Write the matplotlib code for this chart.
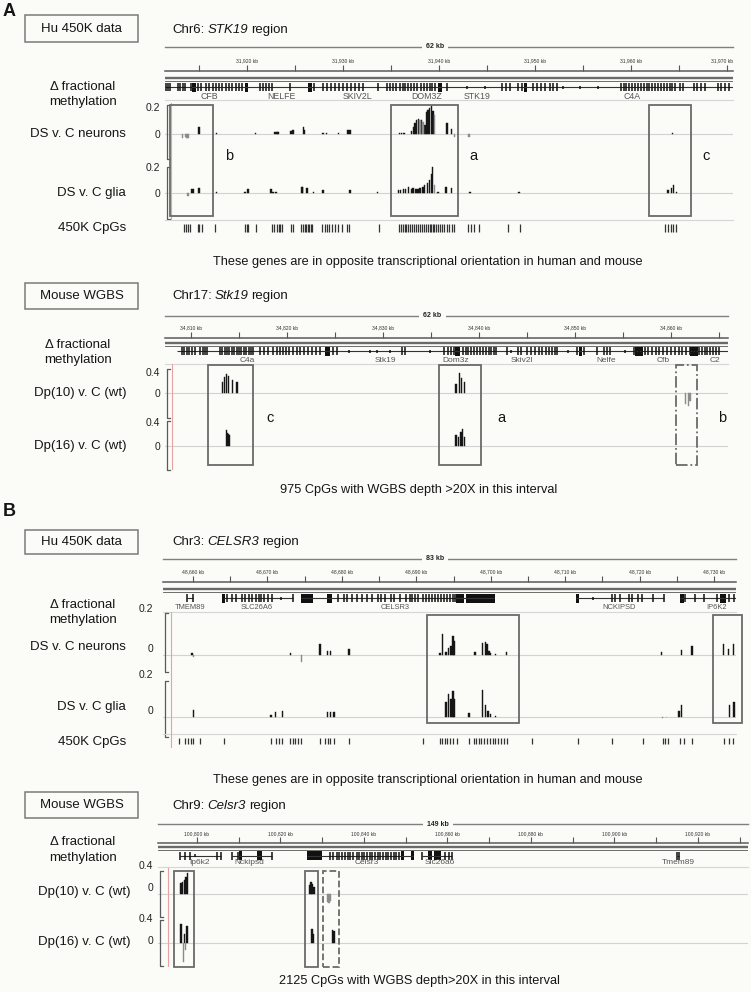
import numpy as np
import matplotlib
matplotlib.use("Agg")
from matplotlib import pyplot as plt
from matplotlib.patches import Rectangle
from matplotlib.ticker import MultipleLocator
from matplotlib.transforms import ScaledTranslation

plt.rcParams['font.family'] = ['Liberation Sans', 'DejaVu Sans']

# ------------------------------------------------------------------
# data, genomic positions in kb, values = delta fractional methylation
# ------------------------------------------------------------------

# A, human 450K, chr6 STK19 region
a_hu_xlim = (31911.46, 31970.6)
a_hu_neur_kb = [31915.0, 31916.8, 31920.9, 31922.9, 31923.1, 31923.2, 31924.6, 31924.8, 31925.9, 31926.0,
                31927.9, 31928.3, 31929.5, 31930.5, 31930.7, 31935.9, 31936.1, 31936.35, 31937.15, 31937.32,
                31937.49, 31937.66, 31937.83, 31938.17, 31938.51, 31938.68, 31938.85, 31939.02, 31939.19,
                31939.36, 31940.8, 31941.3, 31964.3]
a_hu_neur_val = [0.05, 0.01, 0.01, 0.015, 0.015, 0.015, 0.02, 0.03, 0.05, 0.03,
                 0.01, 0.01, 0.01, 0.03, 0.03, 0.01, 0.01, 0.01, 0.02, 0.05,
                 0.08, 0.10, 0.11, 0.10, 0.07, 0.16, 0.18, 0.19, 0.21,
                 0.17, 0.08, 0.04, 0.01]
a_hu_neur_grey_kb = [31913.3, 31913.6, 31913.75, 31913.85, 31938.0, 31938.34, 31939.53, 31941.6, 31943.1]
a_hu_neur_grey_val = [-0.03, -0.02, -0.03, -0.03, 0.10, 0.09, 0.14, -0.02, -0.02]
a_hu_glia_kb = [31914.2, 31914.4, 31915.0, 31916.8, 31919.8, 31920.1, 31922.5, 31922.7, 31923.0, 31925.7,
                31925.8, 31926.25, 31926.9, 31927.9, 31930.7, 31933.6, 31935.75, 31936.0, 31936.3, 31936.5,
                31936.8, 31937.1, 31937.3, 31937.6, 31937.8, 31938.0, 31938.3, 31938.5, 31938.8, 31939.0,
                31939.2, 31939.3, 31939.9, 31940.7, 31941.3, 31943.2, 31948.3, 31963.85, 31964.2, 31964.4,
                31964.7]
a_hu_glia_val = [0.03, 0.03, 0.04, 0.01, 0.01, 0.03, 0.03, 0.01, 0.01, 0.05,
                 0.05, 0.04, 0.01, 0.02, 0.02, 0.01, 0.02, 0.02, 0.03, 0.03,
                 0.05, 0.03, 0.04, 0.03, 0.03, 0.04, 0.05, 0.06, 0.08, 0.10,
                 0.15, 0.20, 0.01, 0.05, 0.04, 0.01, 0.01, 0.02, 0.04, 0.06,
                 0.01]
a_hu_glia_grey_kb = [31913.85, 31939.5]
a_hu_glia_grey_val = [-0.02, 0.06]
a_hu_cpg_kb = [31913.4, 31913.6, 31913.9, 31914.1, 31914.9, 31915.0, 31915.3, 31916.7, 31919.8, 31920.0,
               31920.1, 31920.9, 31922.6, 31922.8, 31923.1, 31923.3, 31923.4, 31923.6, 31924.6, 31924.8,
               31925.6, 31925.8, 31926.0, 31926.1, 31926.3, 31926.5, 31926.7, 31926.8, 31927.8, 31928.1,
               31928.3, 31928.5, 31928.8, 31929.2, 31929.5, 31929.9, 31930.4, 31930.6, 31933.7, 31935.8,
               31936.0, 31936.2, 31936.4, 31936.6, 31936.8, 31937.0, 31937.2, 31937.4, 31937.6, 31937.8,
               31938.0, 31938.2, 31938.4, 31938.6, 31938.8, 31939.0, 31939.2, 31939.4, 31939.5, 31939.7,
               31939.9, 31940.1, 31940.3, 31940.5, 31940.8, 31941.0, 31941.3, 31941.6, 31943.05, 31943.3,
               31943.6, 31944.2, 31947.2, 31948.4, 31963.5, 31963.8, 31964.1, 31964.4, 31964.7]
a_hu_spans = [(31911.46, 31970.6)]
a_hu_exons = [31911.6, 31911.8, 31912.0, 31912.8, 31913.0, 31913.3, 31913.5, 31914.2, 31914.9, 31915.2,
              31915.7, 31916.0, 31916.5, 31916.8, 31917.1, 31917.4, 31917.8, 31918.1, 31918.4, 31918.9,
              31919.2, 31919.5, 31921.4, 31921.7, 31922.0, 31922.3, 31922.6, 31924.5, 31927.0, 31927.9,
              31928.3, 31928.75, 31929.2, 31929.6, 31930.0, 31930.4, 31930.8, 31931.25, 31931.7, 31932.1,
              31933.6, 31934.6, 31934.9, 31935.2, 31935.5, 31935.9, 31936.2, 31936.5, 31936.8, 31937.1,
              31937.4, 31937.7, 31938.1, 31938.4, 31938.7, 31939.0, 31939.3, 31939.6, 31940.8, 31946.6,
              31947.0, 31947.4, 31948.2, 31948.6, 31949.8, 31950.2, 31950.6, 31951.0, 31951.5, 31951.9,
              31952.3, 31958.9, 31959.2, 31959.5, 31959.8, 31960.1, 31960.4, 31960.7, 31961.0, 31961.3,
              31961.6, 31961.9, 31962.2, 31962.5, 31962.8, 31963.1, 31963.4, 31963.7, 31964.0, 31964.3,
              31964.6, 31965.1, 31965.4, 31966.5, 31966.9, 31967.3, 31967.7, 31969.0, 31969.4, 31969.8,
              31970.2]
a_hu_blocks = [(31914.3, 31914.7), (31919.75, 31920.05), (31926.4, 31926.8), (31939.85, 31940.3),
               (31948.85, 31949.2)]
a_hu_dots = [31942.9, 31944.8, 31952.9, 31954.7, 31956.5]
a_hu_gene_names = ['CFB', 'NELFE', 'SKIV2L', 'DOM3Z', 'STK19', 'C4A']
a_hu_gene_kb = [31916.1, 31923.6, 31931.5, 31938.75, 31944.0, 31960.1]
a_hu_box_kb = [(31912.0, 31916.5), (31935.0, 31942.0), (31961.9, 31966.25)]
a_hu_box_letters = ['b', 'a', 'c']
a_hu_letter_kb = [31917.7, 31943.2, 31967.4]
a_hu_mark_kb = 31912.1

# A, mouse WGBS, chr17 Stk19 region
a_mm_xlim = (34807.29, 34865.94)
a_mm_dp10_kb = [34813.3, 34813.5, 34813.7, 34813.9, 34814.3, 34814.8, 34837.6, 34837.95, 34838.2, 34838.5]
a_mm_dp10_val = [0.20, 0.30, 0.37, 0.32, 0.25, 0.20, 0.17, 0.38, 0.29, 0.20]
a_mm_dp10_grey_kb = [34861.5, 34861.8, 34862.0]
a_mm_dp10_grey_val = [-0.20, -0.25, -0.15]
a_mm_dp16_kb = [34813.7, 34813.8, 34813.9, 34814.0, 34837.6, 34837.85, 34838.1, 34838.3, 34838.5]
a_mm_dp16_val = [0.27, 0.22, 0.20, 0.18, 0.18, 0.15, 0.24, 0.28, 0.15]
a_mm_spans = [(34808.5, 34866.0)]
a_mm_exons = [34809.03, 34809.3, 34809.55, 34809.8, 34810.07, 34810.42, 34810.94, 34811.22, 34811.46, 34811.7,
              34813.0, 34813.25, 34813.5, 34813.75, 34814.0, 34814.25, 34814.5, 34814.75, 34815.0, 34815.25,
              34815.5, 34815.75, 34816.0, 34816.25, 34816.5, 34817.2, 34817.6, 34818.0, 34818.5, 34819.0,
              34819.3, 34819.6, 34819.9, 34820.2, 34820.6, 34821.0, 34821.4, 34821.8, 34822.2, 34822.6,
              34823.0, 34823.4, 34824.8, 34825.2, 34831.95, 34832.3, 34836.4, 34836.8, 34837.1, 34837.4,
              34838.3, 34838.6, 34838.9, 34839.2, 34839.5, 34839.8, 34840.1, 34840.4, 34840.7, 34841.0,
              34841.3, 34841.6, 34841.8, 34842.9, 34844.1, 34844.4, 34845.0, 34845.4, 34845.8, 34846.2,
              34846.6, 34847.0, 34847.3, 34847.6, 34847.9, 34848.1, 34850.2, 34850.9, 34852.3, 34853.0,
              34853.3, 34853.65, 34856.1, 34856.4, 34856.7, 34857.0, 34857.3, 34857.6, 34858.0, 34858.4,
              34858.8, 34859.2, 34859.6, 34860.0, 34860.4, 34860.8, 34861.2, 34861.6, 34862.0, 34862.3,
              34862.6, 34862.9, 34863.2, 34863.5, 34863.8, 34864.1, 34864.4, 34864.7, 34865.0]
a_mm_blocks = [(34823.96, 34824.48), (34837.5, 34838.0), (34850.45, 34850.75), (34856.3, 34857.1),
               (34862.0, 34862.8)]
a_mm_dots = [34826.5, 34828.6, 34829.4, 34830.7, 34834.9, 34843.3, 34849.3, 34855.2]
a_mm_gene_names = ['C4a', 'Stk19', 'Dom3z', 'Skiv2l', 'Nelfe', 'Cfb', 'C2']
a_mm_gene_kb = [34815.9, 34830.2, 34837.6, 34844.5, 34853.2, 34859.2, 34864.6]
a_mm_box_kb = [(34811.77, 34816.46), (34835.83, 34840.2), (34860.52, 34862.71)]
a_mm_box_letters = ['c', 'a', 'b']
a_mm_letter_kb = [34817.8, 34841.9, 34864.9]
a_mm_mark_kb = 34808.0

# B, human 450K, chr3 CELSR3 region
b_hu_xlim = (48655.97, 48732.95)
b_hu_neur_kb = [48659.84, 48673.13, 48677.08, 48678.05, 48678.45, 48680.99, 48693.16, 48693.51, 48694.02,
                48694.33, 48694.68, 48694.93, 48695.09, 48697.87, 48698.89, 48699.29, 48699.50, 48699.80,
                48700.00, 48700.66, 48702.13, 48722.93, 48725.66, 48727.03, 48731.3, 48731.95, 48732.6]
b_hu_neur_val = [0.01, 0.01, 0.057, 0.02, 0.02, 0.03, 0.01, 0.107, 0.015,
                 0.037, 0.045, 0.095, 0.07, 0.015, 0.058, 0.067, 0.053, 0.02,
                 0.01, 0.006, 0.015, 0.015, 0.025, 0.045, 0.057, 0.028, 0.057]
b_hu_neur_grey_kb = [48660.10, 48674.55]
b_hu_neur_grey_val = [-0.01, -0.035]
b_hu_glia_kb = [48660.10, 48670.49, 48671.10, 48672.01, 48678.05, 48678.45, 48678.96, 48694.02, 48694.33,
                48694.68, 48694.93, 48695.09, 48697.06, 48698.89, 48699.29, 48699.60, 48700.00, 48700.61,
                48725.26, 48725.66, 48732.06, 48732.69]
b_hu_glia_val = [0.037, 0.01, 0.024, 0.03, 0.024, 0.024, 0.024, 0.08, 0.126,
                 0.10, 0.143, 0.10, 0.02, 0.148, 0.067, 0.033, 0.015, 0.006,
                 0.033, 0.067, 0.065, 0.083]
b_hu_glia_grey_kb = [48723.08, 48723.58]
b_hu_glia_grey_val = [-0.006, -0.004]
b_hu_cpg_kb = [48658.17, 48658.93, 48659.34, 48659.69, 48660.05, 48660.96, 48664.10, 48670.49, 48671.10,
               48671.51, 48672.01, 48673.03, 48673.38, 48673.74, 48674.04, 48674.55, 48677.08, 48677.69,
               48678.10, 48678.45, 48678.96, 48680.99, 48690.88, 48693.16, 48693.51, 48693.82, 48694.17,
               48694.53, 48694.93, 48695.44, 48697.06, 48697.72, 48697.98, 48698.38, 48698.74, 48699.09,
               48699.50, 48699.90, 48700.26, 48700.61, 48701.02, 48701.42, 48701.78, 48702.13, 48705.58,
               48711.77, 48716.33, 48720.39, 48723.08, 48723.43, 48723.84, 48725.36, 48725.97, 48727.03,
               48731.3, 48731.95, 48732.6]
b_hu_spans = [(48659.18, 48660.05), (48664.1, 48673.4), (48674.5, 48700.5), (48711.4, 48723.3),
              (48725.4, 48732.9)]
b_hu_exons = [48659.18, 48660.05, 48664.51, 48665.27, 48665.78, 48666.64, 48667.04, 48667.55, 48667.96,
              48668.46, 48668.82, 48669.17, 48669.48, 48670.09, 48670.59, 48673.38, 48679.47, 48680.23,
              48680.74, 48681.34, 48682.0, 48682.76, 48683.37, 48684.03, 48684.79, 48685.3, 48685.81,
              48686.57, 48687.07, 48687.83, 48688.6, 48689.1, 48689.46, 48689.86, 48690.27, 48690.88,
              48691.28, 48691.69, 48692.09, 48692.5, 48692.9, 48693.31, 48693.72, 48694.12, 48694.5,
              48694.9, 48695.2, 48716.23, 48716.74, 48717.35, 48718.51, 48719.02, 48719.78, 48720.29,
              48721.81, 48723.23, 48726.12, 48727.39, 48728.66, 48730.43, 48731.95, 48732.71]
b_hu_blocks = [(48663.9, 48664.3), (48674.55, 48676.17), (48677.95, 48678.71), (48695.4, 48696.35),
               (48696.71, 48700.51), (48711.4, 48711.92), (48725.36, 48725.97), (48730.84, 48731.55)]
b_hu_dots = [48671.86, 48713.7]
b_hu_gene_names = ['TMEM89', 'SLC26A6', 'CELSR3', 'NCKIPSD', 'IP6K2']
b_hu_gene_kb = [48659.6, 48668.6, 48687.2, 48717.3, 48730.3]
b_hu_box_kb = [(48691.44, 48703.8), (48729.86, 48733.76)]
b_hu_mark_kb = 48657.04

# B, mouse WGBS, chr9 Celsr3 region
b_mm_xlim = (100790.66, 100931.98)
b_mm_dp10_kb = [100796.17, 100796.57, 100796.96, 100797.37, 100797.68, 100826.9, 100827.3, 100827.6, 100828.0]
b_mm_dp10_val = [0.20, 0.22, 0.25, 0.30, 0.376, 0.16, 0.22, 0.19, 0.13]
b_mm_dp10_grey_kb = [100831.3, 100831.6, 100831.9]
b_mm_dp10_grey_val = [-0.15, -0.17, -0.13]
b_mm_dp16_kb = [100796.17, 100797.0, 100797.6, 100827.6, 100827.95, 100832.4, 100832.8]
b_mm_dp16_val = [0.34, 0.17, 0.30, 0.26, 0.16, 0.23, 0.21]
b_mm_dp16_grey_kb = [100796.77, 100797.25]
b_mm_dp16_grey_val = [-0.35, -0.13]
b_mm_spans = [(100795.9, 100805.8), (100808.4, 100818.0), (100826.3, 100851.7), (100853.8, 100861.1),
              (100915.0, 100915.5)]
b_mm_exons = [100795.93, 100797.13, 100798.32, 100804.72, 100805.75, 100808.46, 100809.75, 100817.9,
              100831.86, 100832.65, 100833.46, 100834.08, 100834.66, 100835.45, 100836.1, 100836.72,
              100837.37, 100838.25, 100838.8, 100839.45, 100840.07, 100840.72, 100841.37, 100841.99,
              100842.63, 100843.28, 100843.9, 100844.55, 100845.2, 100845.82, 100846.47, 100847.1,
              100847.74, 100848.38, 100853.82, 100859.4, 100860.36, 100861.08, 100915.04, 100915.5]
b_mm_blocks = [(100810.0, 100810.8), (100814.3, 100815.5), (100826.27, 100829.87), (100848.86, 100849.58),
               (100851.2, 100851.9), (100855.33, 100856.29), (100856.77, 100858.44)]
b_mm_dots = [100799.52]
b_mm_gene_names = ['Ip6k2', 'Nckipsd', 'Celsr3', 'Slc26a6', 'Tmem89']
b_mm_gene_kb = [100800.5, 100812.5, 100840.7, 100858.2, 100915.4]
b_mm_box_kb = [(100794.49, 100799.28), (100825.87, 100828.98), (100830.18, 100834.01)]
b_mm_mark_kb = 100793.06

# ------------------------------------------------------------------
# drawing helpers (layout in pixels of the 751x992 figure)
# ------------------------------------------------------------------
W, H = 751, 992
BG = '#fbfbf7'
INK = '#161616'
GREY_BAR = '#8c8c8c'

fig = plt.figure(figsize=(W / 100, H / 100), dpi=100, facecolor=BG)
renderer = fig.canvas.get_renderer()


def add_ax(left, top, right, bottom):
    ax = fig.add_axes([left / W, 1 - bottom / H, (right - left) / W, (bottom - top) / H])
    ax.set_facecolor('none')
    return ax


def ftext(x, y, s, **kw):
    kw.setdefault('color', '#151515')
    kw.setdefault('va', 'center')
    return fig.text(x / W, 1 - y / H, s, **kw)


def region_title(x, y, pre, gene, post, size=9.5):
    # plain / italic / plain, laid out one after the other
    gap = 3.0
    t = ftext(x, y, pre, fontsize=size)
    x = t.get_window_extent(renderer).x1 + gap
    t = ftext(x, y, gene, fontsize=size, style='italic')
    x = t.get_window_extent(renderer).x1 + gap
    ftext(x, y, post, fontsize=size)


def label_box(left, top, right, bottom, s):
    fig.add_artist(Rectangle((left / W, 1 - bottom / H), (right - left) / W, (bottom - top) / H,
                             transform=fig.transFigure, fill=False, ec='#7a7a7a', lw=1.1))
    ftext((left + right) / 2, (top + bottom) / 2, s, ha='center', fontsize=9.5)


def draw_ruler(left, right, top, bottom, xlim, span, step, label_step, label_y):
    ax = add_ax(left, top, right, bottom)
    ax.set_xlim(xlim)
    ax.set_ylim(0, 1)
    ax.spines['left'].set_visible(False)
    ax.spines['right'].set_visible(False)
    ax.spines['top'].set_color('#808080')
    ax.spines['bottom'].set_color('#5a5a5a')
    ax.spines['top'].set_linewidth(1.0)
    ax.spines['bottom'].set_linewidth(1.1)
    ax.xaxis.set_major_locator(MultipleLocator(step))
    ax.tick_params(axis='x', direction='in', length=4, width=0.8, colors='#555555', labelbottom=False)
    ax.set_yticks([])
    kb_per_px = (xlim[1] - xlim[0]) / (right - left)
    first = np.ceil(xlim[0] / label_step) * label_step
    for t in np.arange(first, xlim[1], label_step):
        if xlim[1] - t < 12 * kb_per_px:
            # last label sits against the right edge of the ruler
            ax.text(xlim[1], label_y, '{:,.0f} kb'.format(t), ha='right', va='center', fontsize=3.6,
                    color='#333333')
        else:
            ax.text(t, label_y, '{:,.0f} kb'.format(t), ha='center', va='center', fontsize=3.6,
                    color='#333333')
    ax.text(0.475, 1.0, span, transform=ax.transAxes, ha='center', va='center', fontsize=5,
            fontweight='bold', color='#222222',
            bbox=dict(boxstyle='square,pad=0.6', fc=BG, ec='none'))
    return ax


def draw_genes(left, right, top, bottom, xlim, spans, exons, blocks, dots, names, name_kb,
               exon_y, label_y, label_size):
    ax = add_ax(left, top, right, bottom)
    h = bottom - top
    ax.set_xlim(xlim)
    ax.set_ylim(0, h)
    for side in ('left', 'right', 'top'):
        ax.spines[side].set_visible(False)
    ax.spines['bottom'].set_color('#d6d6d6')
    ax.spines['bottom'].set_linewidth(0.8)
    ax.set_xticks([])
    ax.set_yticks([])
    ax.axhline(h - 4.5, color='#6a6a6a', lw=1.7)
    ax.axhline(h - 7, color='#555555', lw=0.6)
    ax.hlines([exon_y] * len(spans), [s for s, e in spans], [e for s, e in spans], color='#333333', lw=0.8)
    ax.vlines(exons, exon_y - 4, exon_y + 4, color='#111111', lw=1.1)
    ax.vlines(dots, exon_y - 1.5, exon_y + 1.5, color='#111111', lw=1.1)
    ax.broken_barh([(s, e - s) for s, e in blocks], (exon_y - 4.5, 9), facecolors='#111111')
    for n, k in zip(names, name_kb):
        ax.text(k, label_y, n, ha='center', va='center', fontsize=label_size, color='#555555')
    return ax


def draw_track(left, right, top, bottom, xlim, ylim, ticks, tick_labels, kb, val, grey_kb, grey_val,
               pad_px=5, label_dy=0):
    ax = add_ax(left, top, right, bottom)
    ax.set_xlim(xlim)
    ax.set_ylim(ylim)
    for s in ax.spines.values():
        s.set_visible(False)
    ax.axhline(0, color='#d2d2d2', lw=0.8, zorder=0)
    # bars about 1.5 px wide whatever the window size
    width_kb = 1.5 * (xlim[1] - xlim[0]) / (right - left)
    ax.bar(kb, val, width=width_kb, color=INK, edgecolor=INK, linewidth=0.3)
    ax.bar(grey_kb, grey_val, width=width_kb, color=GREY_BAR, edgecolor=GREY_BAR, linewidth=0.3)
    ax.set_xticks([])
    ax.set_yticks(ticks)
    ax.set_yticklabels(tick_labels)
    ax.tick_params(axis='y', length=0, pad=pad_px * 0.72, labelsize=7.5, labelcolor='#222222')
    if label_dy:
        off = ScaledTranslation(0, label_dy / 100, fig.dpi_scale_trans)
        for lab in ax.get_yticklabels():
            lab.set_transform(lab.get_transform() + off)
    # data range bracket on the left
    w = right - left
    ax.plot([5 / w, 2 / w, 2 / w, 5 / w], [0.99, 0.99, 0.01, 0.01], transform=ax.transAxes,
            color='#5a5a5a', lw=0.9, clip_on=False)
    return ax


def draw_cpgs(left, right, top, bottom, xlim, cpg_kb, y0, y1):
    ax = add_ax(left, top, right, bottom)
    ax.set_xlim(xlim)
    ax.set_ylim(0, 1)
    for side in ('left', 'right', 'bottom'):
        ax.spines[side].set_visible(False)
    ax.spines['top'].set_color('#d6d6d6')
    ax.spines['top'].set_linewidth(0.8)
    ax.set_xticks([])
    ax.set_yticks([])
    ax.vlines(cpg_kb, y0, y1, color='#333333', lw=0.9)
    return ax


def draw_boxes(left, right, top, bottom, xlim, box_kb, styles, letters=(), letter_kb=(), letter_y=0.5):
    ax = add_ax(left, top, right, bottom)
    ax.set_xlim(xlim)
    ax.set_ylim(0, 1)
    ax.axis('off')
    for (s, e), ls in zip(box_kb, styles):
        ax.add_patch(Rectangle((s, 0.005), e - s, 0.99, fill=False, ec='#6a6a6a', lw=1.3, ls=ls,
                               clip_on=False))
    for ch, k in zip(letters, letter_kb):
        ax.text(k, letter_y, ch, ha='left', va='center', fontsize=10.5, color='#151515', clip_on=False)
    return ax


def draw_mark(left, right, top, bottom, xlim, mark_kb):
    ax = add_ax(left, top, right, bottom)
    ax.set_xlim(xlim)
    ax.set_ylim(0, 1)
    ax.axis('off')
    ax.axvline(mark_kb, color='#e8a2a2', lw=0.8)
    return ax


# ------------------------------------------------------------------
# panel A, human
# ------------------------------------------------------------------
ftext(3, 12, 'A', fontsize=13, fontweight='bold')
label_box(25, 15, 138, 42, 'Hu 450K data')
region_title(172, 30, 'Chr6:', 'STK19', 'region')
draw_ruler(165, 733, 47, 71, a_hu_xlim, '62 kb', 5, 10, 0.42)
draw_genes(165, 733, 73.5, 100, a_hu_xlim, a_hu_spans, a_hu_exons, a_hu_blocks, a_hu_dots,
           a_hu_gene_names, a_hu_gene_kb, 13, 3.5, 6.3)
draw_track(165, 733, 104, 160, a_hu_xlim, (-0.193, 0.222), [0, 0.2], ['0', '0.2'],
           a_hu_neur_kb, a_hu_neur_val, a_hu_neur_grey_kb, a_hu_neur_grey_val)
draw_track(165, 733, 166, 220, a_hu_xlim, (-0.208, 0.208), [0, 0.2], ['0', '0.2'],
           a_hu_glia_kb, a_hu_glia_val, a_hu_glia_grey_kb, a_hu_glia_grey_val)
draw_cpgs(165, 733, 220, 236, a_hu_xlim, a_hu_cpg_kb, 0.25, 0.75)
draw_mark(165, 733, 103, 220, a_hu_xlim, a_hu_mark_kb)
draw_boxes(165, 733, 104, 217, a_hu_xlim, a_hu_box_kb, ['-', '-', '-'],
           a_hu_box_letters, a_hu_letter_kb, 0.54)
ftext(83, 87, '\u0394 fractional', ha='center', fontsize=9.5)
ftext(83, 102, 'methylation', ha='center', fontsize=9.5)
ftext(126, 134, 'DS v. C neurons', ha='right', fontsize=9.5)
ftext(126, 193, 'DS v. C glia', ha='right', fontsize=9.5)
ftext(126, 228, '450K CpGs', ha='right', fontsize=9.5)
ftext(428, 262, 'These genes are in opposite transcriptional orientation in human and mouse',
      ha='center', fontsize=9.2)

# panel A, mouse
label_box(25, 283, 138, 309, 'Mouse WGBS')
region_title(172, 296, 'Chr17:', 'Stk19', 'region')
draw_ruler(165, 728, 316, 338, a_mm_xlim, '62 kb', 5, 10, 0.45)
draw_genes(165, 728, 338.5, 364, a_mm_xlim, a_mm_spans, a_mm_exons, a_mm_blocks, a_mm_dots,
           a_mm_gene_names, a_mm_gene_kb, 13, 4, 6)
draw_track(165, 728, 368, 418, a_mm_xlim, (-0.476, 0.476), [0, 0.4], ['0', '0.4'],
           a_mm_dp10_kb, a_mm_dp10_val, a_mm_dp10_grey_kb, a_mm_dp10_grey_val)
draw_track(165, 728, 420, 470, a_mm_xlim, (-0.4, 0.433), [0, 0.4], ['0', '0.4'],
           a_mm_dp16_kb, a_mm_dp16_val, [], [])
draw_mark(165, 728, 364, 470, a_mm_xlim, a_mm_mark_kb)
draw_boxes(165, 728, 364, 466, a_mm_xlim, a_mm_box_kb, ['-', '-', '-.'],
           a_mm_box_letters, a_mm_letter_kb, 0.47)
ftext(78, 345, '\u0394 fractional', ha='center', fontsize=9.5)
ftext(78, 360, 'methylation', ha='center', fontsize=9.5)
ftext(126, 393, 'Dp(10) v. C (wt)', ha='right', fontsize=9.5)
ftext(126, 446, 'Dp(16) v. C (wt)', ha='right', fontsize=9.5)
ftext(419, 490, '975 CpGs with WGBS depth >20X in this interval', ha='center', fontsize=9.2)

# ------------------------------------------------------------------
# panel B, human
# ------------------------------------------------------------------
ftext(3, 512, 'B', fontsize=13, fontweight='bold')
label_box(25, 530, 138, 554, 'Hu 450K data')
region_title(172, 542, 'Chr3:', 'CELSR3', 'region')
draw_ruler(163, 736, 559, 582, b_hu_xlim, '83 kb', 5, 10, 0.43)
draw_genes(163, 736, 584.5, 612, b_hu_xlim, b_hu_spans, b_hu_exons, b_hu_blocks, b_hu_dots,
           b_hu_gene_names, b_hu_gene_kb, 14, 4.5, 5.4)
draw_track(163, 736, 612, 673, b_hu_xlim, (-0.09, 0.215), [0, 0.2], ['0', '0.2'],
           b_hu_neur_kb, b_hu_neur_val, b_hu_neur_grey_kb, b_hu_neur_grey_val, pad_px=10, label_dy=7)
draw_track(163, 736, 680, 738, b_hu_xlim, (-0.118, 0.204), [0, 0.2], ['0', '0.2'],
           b_hu_glia_kb, b_hu_glia_val, b_hu_glia_grey_kb, b_hu_glia_grey_val, pad_px=10, label_dy=7)
draw_cpgs(163, 736, 734, 748, b_hu_xlim, b_hu_cpg_kb, 0.26, 0.74)
draw_mark(163, 736, 612, 748, b_hu_xlim, b_hu_mark_kb)
draw_boxes(163, 736, 614, 724, b_hu_xlim, b_hu_box_kb, ['-', '-'])
ftext(83, 605, '\u0394 fractional', ha='center', fontsize=9.5)
ftext(83, 620, 'methylation', ha='center', fontsize=9.5)
ftext(126, 647, 'DS v. C neurons', ha='right', fontsize=9.5)
ftext(126, 707, 'DS v. C glia', ha='right', fontsize=9.5)
ftext(126, 742, '450K CpGs', ha='right', fontsize=9.5)
ftext(428, 780, 'These genes are in opposite transcriptional orientation in human and mouse',
      ha='center', fontsize=9.2)

# panel B, mouse
label_box(25, 792, 138, 818, 'Mouse WGBS')
region_title(172, 806, 'Chr9:', 'Celsr3', 'region')
draw_ruler(158, 748, 824, 843, b_mm_xlim, '149 kb', 10, 20, 0.47)
draw_genes(158, 748, 842.5, 867, b_mm_xlim, b_mm_spans, b_mm_exons, b_mm_blocks, b_mm_dots,
           b_mm_gene_names, b_mm_gene_kb, 11.5, 4.5, 6)
draw_track(158, 748, 871, 917, b_mm_xlim, (-0.418, 0.418), [0, 0.4], ['0', '0.4'],
           b_mm_dp10_kb, b_mm_dp10_val, b_mm_dp10_grey_kb, b_mm_dp10_grey_val, pad_px=5, label_dy=7)
draw_track(158, 748, 920, 966, b_mm_xlim, (-0.418, 0.418), [0, 0.4], ['0', '0.4'],
           b_mm_dp16_kb, b_mm_dp16_val, b_mm_dp16_grey_kb, b_mm_dp16_grey_val, pad_px=5, label_dy=3)
draw_mark(158, 748, 868, 967, b_mm_xlim, b_mm_mark_kb)
draw_boxes(158, 748, 871, 967, b_mm_xlim, b_mm_box_kb, ['-', '-', '--'])
ftext(83, 842, '\u0394 fractional', ha='center', fontsize=9.5)
ftext(83, 858, 'methylation', ha='center', fontsize=9.5)
ftext(130, 892, 'Dp(10) v. C (wt)', ha='right', fontsize=9.5)
ftext(130, 942, 'Dp(16) v. C (wt)', ha='right', fontsize=9.5)
ftext(419, 981, '2125 CpGs with WGBS depth>20X in this interval', ha='center', fontsize=9.2)

fig.savefig('out.png', dpi=100, facecolor=BG)
